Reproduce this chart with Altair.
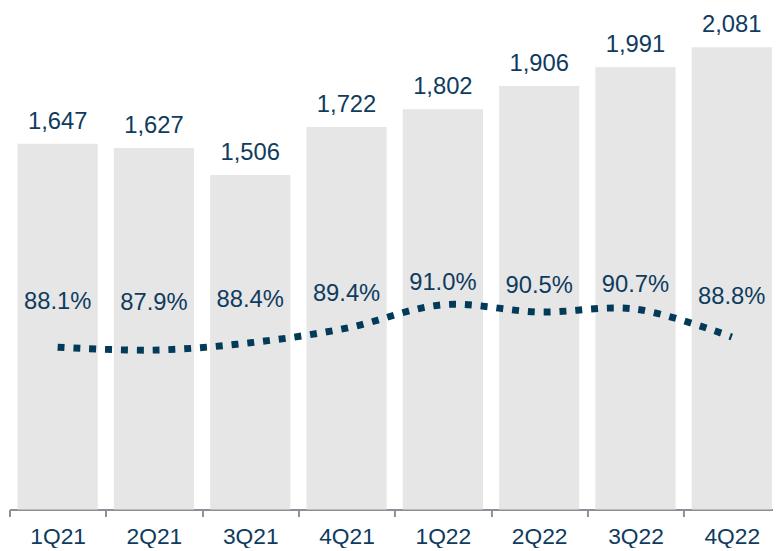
import altair as alt
import pandas as pd

quarters = ["1Q21", "2Q21", "3Q21", "4Q21", "1Q22", "2Q22", "3Q22", "4Q22"]
volumes = [1647, 1627, 1506, 1722, 1802, 1906, 1991, 2081]
ratios = [88.1, 87.9, 88.4, 89.4, 91.0, 90.5, 90.7, 88.8]

df = pd.DataFrame({
    "q": quarters,
    "v": volumes,
    "r": ratios,
    "vlabel": [f"{v:,}" for v in volumes],
    "rlabel": [f"{r:.1f}%" for r in ratios],
})

TEXT = "#0e3b5e"
LINE = "#033a5a"
FONT = "Liberation Sans"
FS = 24

x = alt.X(
    "q:N",
    sort=quarters,
    title=None,
    scale=alt.Scale(paddingInner=0, paddingOuter=0, range=[0, 778.5]),
    axis=alt.Axis(
        labelAngle=0,
        tickBand="extent",
        domainColor="#8c8f95",
        domainWidth=2,
        tickColor="#8c8f95",
        tickWidth=2,
        tickSize=7,
        labelPadding=9,
        labelFontSize=FS - 1,
        labelFont=FONT,
        labelColor=TEXT,
        grid=False,
    ),
)

base = alt.Chart(df)

yv = alt.Y("v:Q", scale=alt.Scale(domain=[0, 2245], nice=False, zero=True), axis=None)

bars = base.mark_bar(color="#e6e6e6", width=alt.RelativeBandSize(0.833)).encode(x=x, y=yv)

bar_labels = base.mark_text(
    fontSize=FS, font=FONT, color=TEXT, baseline="middle", dy=-22
).encode(x=x, y=yv, text="vlabel:N")

bar_layer = alt.layer(bars, bar_labels)

line = base.mark_line(
    color=LINE, strokeWidth=7, strokeDash=[7, 9], interpolate="catmull-rom"
).encode(
    x=x,
    y=alt.Y("r:Q", scale=alt.Scale(domain=[77.01, 111.07], nice=False, zero=False), axis=None),
)

pct_labels = base.mark_text(
    fontSize=FS, font=FONT, color=TEXT, baseline="middle"
).encode(
    x=x,
    y=alt.Y("r:Q", scale=alt.Scale(domain=[56.33, 132.7], nice=False, zero=False), axis=None),
    text="rlabel:N",
)

chart = (
    alt.layer(bar_layer, line, pct_labels)
    .resolve_scale(y="independent")
    .properties(
        width=771.5,
        height=504,
        autosize=alt.AutoSizeParams(type="none"),
        padding={"left": 1.5, "top": 0, "right": 0, "bottom": 36},
    )
    .configure_view(stroke=None)
)

chart.save("out.html", embed_options={"renderer": "svg", "actions": False})
